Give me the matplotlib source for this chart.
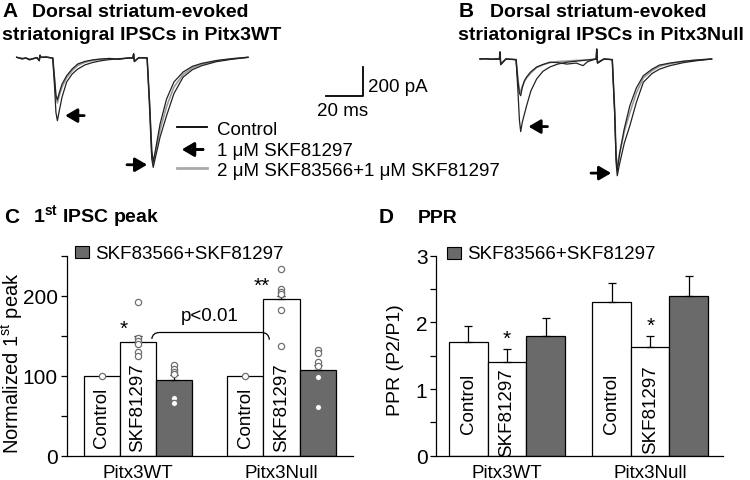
import matplotlib
matplotlib.use("Agg")
import matplotlib.pyplot as plt
from matplotlib.transforms import Affine2D
from matplotlib.lines import Line2D
from matplotlib.patches import Rectangle, PathPatch
from matplotlib.path import Path

plt.rcParams['font.family'] = ['Liberation Sans', 'DejaVu Sans']
plt.rcParams['mathtext.fontset'] = 'custom'
plt.rcParams['mathtext.rm'] = 'Liberation Sans'
plt.rcParams['mathtext.bf'] = 'Liberation Sans:bold'

# ---------------- data ----------------
# traces (ms, pA)
tA = [0, 3, 5, 7, 9, 11, 12.2, 12.6, 13, 16, 19.5, 20.5, 21.2, 22, 23, 24.5, 27, 30, 33, 37, 41, 45,
      50, 55, 60, 62.8, 63.2, 63.6, 66, 70.5, 71.8, 73, 73.8, 75, 77.5, 81, 85, 90, 95, 100, 108, 116, 125]
wt_control = [0, -12, -4, -18, -8, -2, -25, 15, 0, 2, -5, -150, -260, -294, -245, -185, -127, -80, -46, -28, -18, -12,
              -8, -14, -5, -4, 25, -30, -2, -4, -300, -640, -722, -640, -460, -288, -170, -101, -62, -42, -22, -10, 0]
wt_skf = [0, -8, -6, -14, -10, -3, -22, 12, 0, 1, -6, -210, -380, -437, -370, -275, -170, -115, -81, -52, -36, -25,
          -16, -10, -6, -5, 22, -28, -4, -5, -340, -700, -759, -690, -550, -403, -250, -136, -85, -58, -30, -14, 0]
wt_anta = [0, -10, -5, -16, -9, -2, -20, 14, 0, 1, -5, -160, -275, -315, -265, -205, -140, -92, -56, -34, -22, -15,
           -9, -12, -5, -4, 20, -25, -3, -4, -320, -660, -735, -660, -500, -340, -205, -118, -72, -48, -25, -11, 0]

tB = [0, 3, 6, 9, 10.5, 10.8, 11.2, 14, 19.5, 20.5, 21.3, 22, 22.8, 24, 25.2, 27.5, 30.6, 34, 37.8, 42, 47, 52,
      55.7, 58, 61, 62.8, 63.1, 63.5, 67, 71.5, 72.8, 73.6, 74.2, 75.5, 78, 81, 84.5, 88.3, 93, 97, 102.7, 110, 117, 125.2]
null_skf = [0, 2, -2, 0, 0, 50, -40, 0, -5, -220, -420, -501, -440, -380, -322, -220, -138, -85, -55, -35, -22, -15,
            -10, -7, -3, 0, 70, -30, 0, -5, -380, -720, -805, -720, -580, -460, -300, -160, -100, -70, -46, -25, -12, 0]
null_control = [0, 1, -1, 0, 0, 45, -35, 0, -4, -150, -235, -253, -200, -150, -124, -88, -55, -38, -22, -25, -35, -28,
                -46, -20, -6, 0, 65, -25, 0, -4, -360, -690, -770, -650, -480, -322, -200, -115, -70, -42, -28, -15, -7, 0]
null_anta = [0, 1, -1, 0, 0, 45, -35, 0, -4, -140, -215, -228, -190, -155, -130, -95, -60, -40, -25, -18, -14, -10,
             -8, -6, -3, 0, 65, -25, 0, -4, -350, -670, -740, -650, -500, -370, -235, -130, -80, -50, -32, -17, -8, 0]

groups = ['Pitx3WT', 'Pitx3Null']
conditions = ['Control', 'SKF81297', 'SKF83566+SKF81297']

peak_wt = [100, 142, 94.6]
peak_wt_err = [0, 8, 6]
peak_null = [100, 196, 107.5]
peak_null_err = [0, 4, 6]
pts_wt_ctrl = [100]
pts_wt_skf = [192, 147, 144, 140, 130, 125]
pts_wt_anta = [113, 109, 105, 102, 72, 66]
pts_null_ctrl = [100]
pts_null_skf = [234, 209, 205, 202, 182, 137.5]
pts_null_anta = [132.5, 128, 117, 112, 98, 60.5]

ppr_wt = [1.71, 1.40, 1.80]
ppr_wt_err = [0.23, 0.20, 0.27]
ppr_null = [2.31, 1.635, 2.40]
ppr_null_err = [0.28, 0.16, 0.30]

# ---------------- layout helpers ----------------
W, H = 750, 481
fig = plt.figure(figsize=(W / 100, H / 100), dpi=100)
fig.patch.set_facecolor('white')
px = Affine2D().scale(1.0 / W, -1.0 / H).translate(0, 1) + fig.transFigure


def axes_px(x0, y0, x1, y1):
    return fig.add_axes([x0 / W, 1 - y1 / H, (x1 - x0) / W, (y1 - y0) / H])


PXMS, PXPA = 1.85, 0.145
DARK = '#6a6a6a'
GRAY_TR = '#9a9a9a'


def trace_axes(rect, ox, oy):
    x0, y0, x1, y1 = rect
    ax = axes_px(x0, y0, x1, y1)
    ax.set_xlim((x0 - ox) / PXMS, (x1 - ox) / PXMS)
    ax.set_ylim((oy - y1) / PXPA, (oy - y0) / PXPA)
    ax.axis('off')
    return ax


# ---------------- titles ----------------
tfs = 14
fig.text(2, 17, 'A', transform=px, fontsize=tfs + 1, fontweight='bold', va='baseline')
fig.text(32, 17, 'Dorsal striatum-evoked', transform=px, fontsize=tfs, fontweight='bold', va='baseline')
fig.text(2, 40, 'striatonigral IPSCs in Pitx3WT', transform=px, fontsize=tfs, fontweight='bold', va='baseline')
fig.text(459, 17, 'B', transform=px, fontsize=tfs + 1, fontweight='bold', va='baseline')
fig.text(490, 17, 'Dorsal striatum-evoked', transform=px, fontsize=tfs, fontweight='bold', va='baseline')
fig.text(458, 40, 'striatonigral IPSCs in Pitx3Null', transform=px, fontsize=tfs, fontweight='bold', va='baseline')
fig.text(4, 223, 'C', transform=px, fontsize=tfs + 1, fontweight='bold', va='baseline')
fig.text(33, 223, r'1$^{\mathbf{st}}$ IPSC peak', transform=px, fontsize=tfs, fontweight='bold', va='baseline')
fig.text(379, 223, 'D', transform=px, fontsize=tfs + 1, fontweight='bold', va='baseline')
fig.text(418, 223, 'PPR', transform=px, fontsize=tfs, fontweight='bold', va='baseline')

# ---------------- traces ----------------
axA = trace_axes((0, 45, 375, 190), 16.7, 58.3)
axA.plot(tA, wt_anta, color=GRAY_TR, lw=1.2)
axA.plot(tA, wt_control, color='#222222', lw=0.9)
axA.plot(tA, wt_skf, color='#222222', lw=0.9)

axB = trace_axes((376, 45, 750, 190), 480, 60)
axB.plot(tB, null_anta, color=GRAY_TR, lw=1.2)
axB.plot(tB, null_control, color='#222222', lw=0.9)
axB.plot(tB, null_skf, color='#222222', lw=0.9)

arrow_kw = dict(arrowstyle='-|>,head_length=0.6,head_width=0.35', color='black', lw=2.0,
                shrinkA=0, shrinkB=0, mutation_scale=12)


def peak_arrow(ax, t, y, trace, side):
    i = trace.index(min(trace[:len(trace) // 2])) if side == 'left' else \
        len(trace) // 2 + trace[len(trace) // 2:].index(min(trace[len(trace) // 2:]))
    pt, pv = t[i], trace[i]
    if side == 'left':
        ax.annotate('', xy=(pt + 4.2, pv + 35), xytext=(pt + 14.5, pv + 35), arrowprops=arrow_kw)
    else:
        ax.annotate('', xy=(pt - 3.3, pv + 18), xytext=(pt - 14.2, pv + 18), arrowprops=arrow_kw)


peak_arrow(axA, tA, tA, wt_skf, 'left')
peak_arrow(axA, tA, tA, wt_skf, 'right')
peak_arrow(axB, tB, tB, null_skf, 'left')
peak_arrow(axB, tB, tB, null_skf, 'right')

# scale bar
sx, sy = 363, 97
fig.add_artist(Line2D([sx - 20 * PXMS, sx, sx], [sy, sy, sy - 200 * PXPA], transform=px, color='black', lw=1.3))
fig.text(368, 91.5, '200 pA', transform=px, fontsize=13.5, va='baseline')
fig.text(343, 116.5, '20 ms', transform=px, fontsize=13.5, va='baseline', ha='center')

# legend of traces
fig.add_artist(Line2D([177, 207], [128.3, 128.3], transform=px, color='black', lw=1.3))
fig.add_artist(Line2D([177, 207], [169, 169], transform=px, color='#aaaaaa', lw=2.0))
fig.text(217, 135, 'Control', transform=px, fontsize=13.5, va='baseline')
fig.text(217, 156.5, '1 μM SKF81297', transform=px, fontsize=13.5, va='baseline')
fig.text(217, 176.5, '2 μM SKF83566+1 μM SKF81297', transform=px, fontsize=13.5, va='baseline')
fig.add_artist(plt.annotate('', xy=(182, 150.5), xytext=(203, 150.5), xycoords=px, textcoords=px,
                            arrowprops=arrow_kw))


# ---------------- bar charts ----------------
def style_bar_axes(ax, ymax, step, labels_at):
    for s in ['top', 'right']:
        ax.spines[s].set_visible(False)
    for s in ['left', 'bottom']:
        ax.spines[s].set_linewidth(0.9)
    ticks = [i * step for i in range(int(round(ymax / step)) + 1)]
    ax.set_yticks(ticks)
    ax.set_yticklabels([('%g' % t) if t in labels_at else '' for t in ticks])
    ax.tick_params(axis='y', direction='out', length=4.5, width=0.9, labelsize=15, pad=2)
    ax.tick_params(axis='x', length=0, labelsize=13.5, pad=6)
    ax.set_ylim(0, ymax)


def draw_group(ax, x0, vals, errs, pts=None, fs=13.5, lab_y=(None, None)):
    xs = [x0, x0 + 1, x0 + 2]
    colors = ['white', 'white', DARK]
    ax.bar(xs, vals, width=1.0, color=colors, edgecolor='black', linewidth=0.9, zorder=2)
    for x, v, e in zip(xs, vals, errs):
        if e > 0:
            ax.errorbar([x], [v], yerr=[[0], [e]], fmt='none', ecolor='black', elinewidth=0.9,
                        capsize=3, capthick=0.9, zorder=3)
    if pts is not None:
        for x, p in zip(xs, pts):
            ax.plot([x] * len(p), p, 'o', ms=4.5, mfc='white', mec='#707070', mew=0.9, zorder=5, ls='none')
    ax.text(xs[0], lab_y[0], conditions[0], rotation=90, ha='center', va='center', fontsize=fs, zorder=4)
    ax.text(xs[1], lab_y[1], conditions[1], rotation=90, ha='center', va='center', fontsize=fs, zorder=4)


# panel C
axC = axes_px(67, 256.7, 353, 456.7)
cw = 36.3
c_off = 3.95
axC.set_xlim(-(101.7 - 67) / cw, -(101.7 - 67) / cw + (353 - 67) / cw)
style_bar_axes(axC, 250, 50, [0, 100, 200])
draw_group(axC, 0, peak_wt, peak_wt_err, [pts_wt_ctrl, pts_wt_skf, pts_wt_anta], lab_y=(48, 61))
draw_group(axC, c_off, peak_null, peak_null_err, [pts_null_ctrl, pts_null_skf, pts_null_anta], lab_y=(48, 61))
axC.set_xticks([1, c_off + 1])
axC.set_xticklabels(groups)
axC.text(0.6, 147, '*', ha='center', va='bottom', fontsize=15)
axC.text(c_off + 0.45, 201, '**', ha='center', va='bottom', fontsize=15)
# bracket
bx0, bx1, by0, by1 = 1.38, 4.62, 146, 154
verts = [(bx0, by0), (bx0 + 0.02, by1), (bx0 + 0.22, by1), (bx1 - 0.22, by1), (bx1 - 0.02, by1), (bx1, by0 - 1)]
codes = [Path.MOVETO, Path.CURVE3, Path.CURVE3, Path.LINETO, Path.CURVE3, Path.CURVE3]
axC.add_patch(PathPatch(Path(verts, codes), fill=False, lw=0.9, edgecolor='black', zorder=6))
axC.text(2.98, 165, 'p<0.01', ha='center', va='bottom', fontsize=13.5)
fig.text(12, 363, r'Normalized 1$^{\mathrm{st}}$ peak', transform=px, rotation=90, fontsize=14.5,
         ha='center', va='center')
fig.add_artist(Rectangle((75, 246.5), 14, 12, transform=px, facecolor=DARK, edgecolor='black', lw=0.8))
fig.text(95, 259, conditions[2], transform=px, fontsize=13.5, va='baseline')

# panel D
axD = axes_px(436.5, 256.7, 723.3, 456.7)
dw = 38.5
d_off = 3.72
axD.set_xlim(-(468.5 - 436.5) / dw, -(468.5 - 436.5) / dw + (723.3 - 436.5) / dw)
style_bar_axes(axD, 3, 0.5, [0, 1, 2, 3])
draw_group(axD, 0, ppr_wt, ppr_wt_err, lab_y=(0.79, 0.66))
draw_group(axD, d_off, ppr_null, ppr_null_err, lab_y=(0.79, 0.70))
axD.set_xticks([1, d_off + 1])
axD.set_xticklabels(groups)
axD.text(1.0, 1.62, '*', ha='center', va='bottom', fontsize=15)
axD.text(d_off + 1.0, 1.81, '*', ha='center', va='bottom', fontsize=15)
fig.text(395, 360, 'PPR (P2/P1)', transform=px, rotation=90, fontsize=14, ha='center', va='center')
fig.add_artist(Rectangle((447, 247.5), 14, 12, transform=px, facecolor=DARK, edgecolor='black', lw=0.8))
fig.text(467, 259.5, conditions[2], transform=px, fontsize=13.5, va='baseline')

fig.savefig('out.png', dpi=100, facecolor='white')
